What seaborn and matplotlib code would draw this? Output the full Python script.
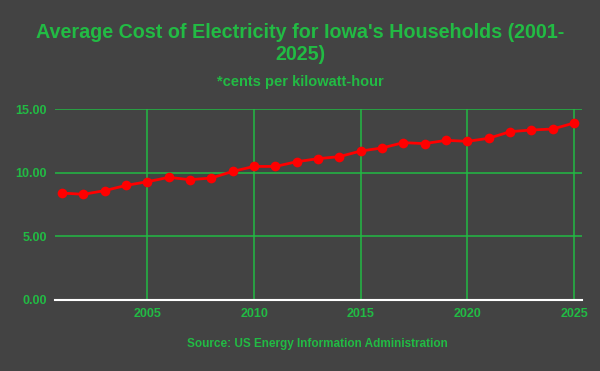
import pandas as pd
import matplotlib.pyplot as plt
import seaborn as sns
from matplotlib.ticker import FormatStrFormatter

sns.set_style('dark')
plt.rcParams['font.family'] = ['Liberation Sans', 'DejaVu Sans']

# ---- Data (cents per kWh) ----
years = list(range(2001, 2026))
cost = [8.40, 8.30, 8.59, 9.00, 9.29, 9.63, 9.45, 9.58, 10.10, 10.49,
        10.49, 10.86, 11.10, 11.26, 11.70, 11.94, 12.36, 12.28, 12.54, 12.46,
        12.70, 13.22, 13.35, 13.43, 13.90]
y_ticks = [0, 5, 10, 15]
x_ticks = [2005, 2010, 2015, 2020, 2025]

df = pd.DataFrame({'year': years, 'cost': cost})

BG = '#434343'
GREEN = '#22bb44'

fig = plt.figure(figsize=(6, 3.71), dpi=100, facecolor=BG)
ax = fig.add_axes([55 / 600, 1 - 300 / 371, 527 / 600, 191 / 371])
ax.set_facecolor(BG)

sns.lineplot(data=df, x='year', y='cost', ax=ax, color='#ff0000',
             linewidth=2, marker='o', markersize=7, markeredgewidth=0)

ax.set_xlim(2000.67, 2025.37)
ax.set_ylim(0, 15)
ax.set_xticks(x_ticks)
ax.set_yticks(y_ticks)
ax.yaxis.set_major_formatter(FormatStrFormatter('%.2f'))
ax.grid(True, color=GREEN, linewidth=1.1)
ax.set_axisbelow(True)
ax.tick_params(length=0, colors=GREEN, labelsize=9, pad=6)
for lbl in ax.get_xticklabels() + ax.get_yticklabels():
    lbl.set_fontweight('bold')
ax.set_xlabel('')
ax.set_ylabel('')

for side in ['top', 'right', 'left']:
    ax.spines[side].set_visible(False)
ax.spines['bottom'].set_color('white')
ax.spines['bottom'].set_linewidth(1.5)

fig.text(0.5, 1 - 44 / 371, "Average Cost of Electricity for Iowa's Households (2001-\n2025)",
         ha='center', va='center', color=GREEN, fontsize=14.2, fontweight='bold',
         linespacing=1.2)
fig.text(0.5, 1 - 82 / 371, '*cents per kilowatt-hour', ha='center', va='center',
         color=GREEN, fontsize=10.5, fontweight='bold')
fig.text(0.529, 1 - 344 / 371, 'Source: US Energy Information Administration',
         ha='center', va='center', color=GREEN, fontsize=8.5, fontweight='bold')

fig.savefig('out.png', dpi=100, facecolor=BG)
